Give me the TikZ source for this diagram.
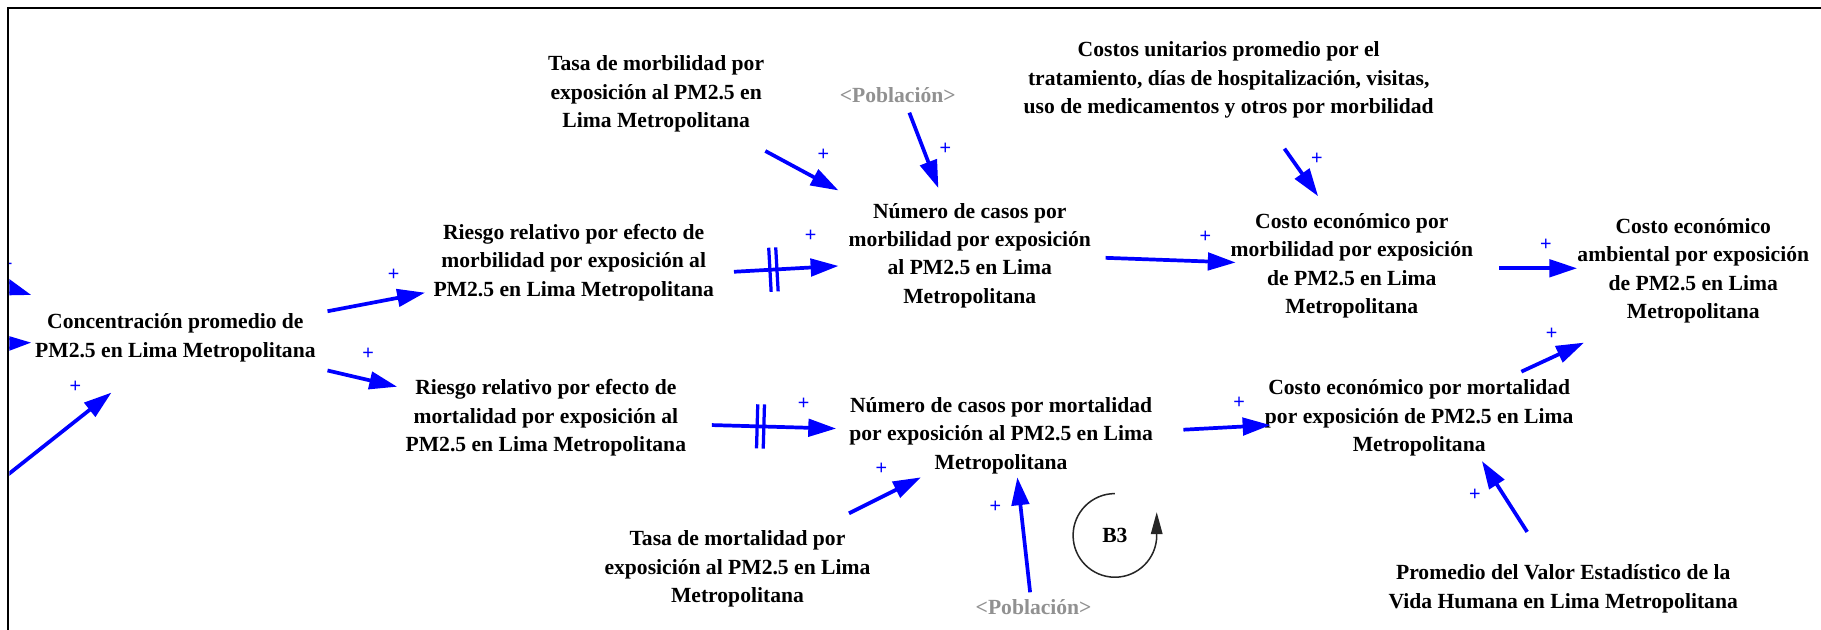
\documentclass[tikz,border=0pt]{standalone}
\usepackage{fontspec}
\setmainfont{Liberation Serif}
\setsansfont{Liberation Sans}
\usetikzlibrary{arrows.meta,calc}
\definecolor{cldblue}{RGB}{0,0,255}
\definecolor{popgray}{RGB}{145,145,145}
\begin{document}
\begin{tikzpicture}[x=1pt,y=1pt,
  var/.style={font=\fontsize{18.6}{24.5}\selectfont\bfseries, align=center, inner sep=0pt},
  shadowvar/.style={var, text=popgray},
  arr/.style={draw=cldblue, line width=3.2pt, -{Triangle[length=24pt,width=15pt]}},
  plus/.style={text=cldblue, font=\sffamily\fontsize{17}{17}\selectfont, inner sep=0pt},
  delaybar/.style={draw=cldblue, line width=2.8pt},
  loopline/.style={draw=black!85, line width=1.3pt, -{Triangle[length=19pt,width=10pt]}}
]
\useasboundingbox (0,0) rectangle (1568,-542);

% variables
\node[var] (A) at (151,-291) {Concentración promedio de\\PM2.5 en Lima Metropolitana};
\node[var] (B) at (494,-226) {Riesgo relativo por efecto de\\morbilidad por exposición al\\PM2.5 en Lima Metropolitana};
\node[var] (C) at (470,-360) {Riesgo relativo por efecto de\\mortalidad por exposición al\\PM2.5 en Lima Metropolitana};
\node[var] (D) at (565,-81) {Tasa de morbilidad por\\exposición al PM2.5 en\\Lima Metropolitana};
\node[shadowvar] (P1) at (773,-82) {<Población>};
\node[var] (F) at (835,-220) {Número de casos por\\morbilidad por exposición\\al PM2.5 en Lima\\Metropolitana};
\node[var] (G) at (1058,-69) {Costos unitarios promedio por el\\tratamiento, días de hospitalización, visitas,\\uso de medicamentos y otros por morbilidad};
\node[var] (H) at (1164,-229) {Costo económico por\\morbilidad por exposición\\de PM2.5 en Lima\\Metropolitana};
\node[var] (I) at (1458,-233) {Costo económico\\ambiental por exposición\\de PM2.5 en Lima\\Metropolitana};
\node[var] (J) at (862,-375) {Número de casos por mortalidad\\por exposición al PM2.5 en Lima\\Metropolitana};
\node[var] (K) at (635,-490) {Tasa de mortalidad por\\exposición al PM2.5 en Lima\\Metropolitana};
\node[shadowvar] (P2) at (890,-523) {<Población>};
\node[var] (M) at (1222,-360) {Costo económico por mortalidad\\por exposición de PM2.5 en Lima\\Metropolitana};
\node[var] (N) at (1346,-507) {Promedio del Valor Estadístico de la\\Vida Humana en Lima Metropolitana};
\node[var] (B3) at (960,-461) {B3};

% connectors entering from outside the frame
\coordinate (e1) at (-30,-236);
\coordinate (e2) at (-30,-297);
\coordinate (e3) at (-10,-422);
\begin{scope}
  \clip (8,0) rectangle (1568,-542);
  \draw[arr] (e1) -- ($(A)+(-124,37)$) node[plus, xshift=-21pt, yshift=26pt] (p1) {+};
  \draw[arr] (e2) -- ($(A)+(-124,-4)$);
  \draw[arr] (e3) -- ($(A)+(-55,-47)$) node[plus, xshift=-31pt, yshift=5pt] (p3) {+};
\end{scope}

% connectors
\draw[arr] ($(A)+(131,23)$) -- ($(B)+(-128,-26)$) node[plus, xshift=-27pt, yshift=15pt] (p4) {+};
\draw[arr] ($(A)+(131,-28)$) -- ($(C)+(-128,27)$) node[plus, xshift=-25pt, yshift=28pt] (p5) {+};
\draw[arr] ($(B)+(138,-8)$) coordinate (s6) -- ($(F)+(-113,-9)$) coordinate (t6) node[plus, xshift=-24pt, yshift=26pt] (p6) {+};
\draw[arr] ($(D)+(94,-49)$) -- ($(F)+(-113,56)$) node[plus, xshift=-13pt, yshift=31pt] (p7) {+};
\draw[arr] ($(P1)+(10,-15)$) -- ($(F)+(-27,58)$) node[plus, xshift=6pt, yshift=34pt] (p8) {+};
\draw[arr] ($(F)+(117,-2)$) -- ($(H)+(-100,3)$) node[plus, xshift=-26pt, yshift=22pt] (p9) {+};
\draw[arr] ($(G)+(48,-59)$) -- ($(H)+(-29,60)$) node[plus, xshift=-1pt, yshift=32pt] (p10) {+};
\draw[arr] ($(H)+(127,-2)$) -- ($(I)+(-100,2)$) node[plus, xshift=-27pt, yshift=20pt] (p11) {+};
\draw[arr] ($(M)+(88,40)$) -- ($(I)+(-94,-62)$) node[plus, xshift=-28pt, yshift=8pt] (p12) {+};
\draw[arr] ($(C)+(143,-6)$) coordinate (s13) -- ($(J)+(-142,6)$) coordinate (t13) node[plus, xshift=-28pt, yshift=21pt] (p13) {+};
\draw[arr] ($(K)+(96,48)$) -- ($(J)+(-69,-36)$) node[plus, xshift=-34pt, yshift=7pt] (p14) {+};
\draw[arr] ($(P2)+(-3,13)$) -- ($(J)+(14,-36)$) node[plus, xshift=-19pt, yshift=-25pt] (p15) {+};
\draw[arr] ($(J)+(157,5)$) -- ($(M)+(-128,-6)$) node[plus, xshift=-27pt, yshift=19pt] (p16) {+};
\draw[arr] ($(N)+(-31,49)$) -- ($(M)+(54,-37)$) node[plus, xshift=-6pt, yshift=-29pt] (p17) {+};

% delay marks
\coordinate (d6a) at ($(s6)!0.344!(t6)$);
\coordinate (d6b) at ($(s6)!0.411!(t6)$);
\draw[delaybar] ($(d6a)!19pt!90:(t6)$) -- ($(d6a)!19pt!-90:(t6)$);
\draw[delaybar] ($(d6b)!19pt!90:(t6)$) -- ($(d6b)!19pt!-90:(t6)$);
\coordinate (d13a) at ($(s13)!0.364!(t13)$);
\coordinate (d13b) at ($(s13)!0.418!(t13)$);
\draw[delaybar] ($(d13a)!19pt!90:(t13)$) -- ($(d13a)!19pt!-90:(t13)$);
\draw[delaybar] ($(d13b)!19pt!90:(t13)$) -- ($(d13b)!19pt!-90:(t13)$);

% loop marker
\draw[loopline] ($(B3)+(0,36)$) arc[start angle=90, end angle=360, radius=36pt] -- ++(0,20);

% frame
\draw[line width=2pt] (7,-560) -- (7,-7) -- (1590,-7);
\end{tikzpicture}
\end{document}
